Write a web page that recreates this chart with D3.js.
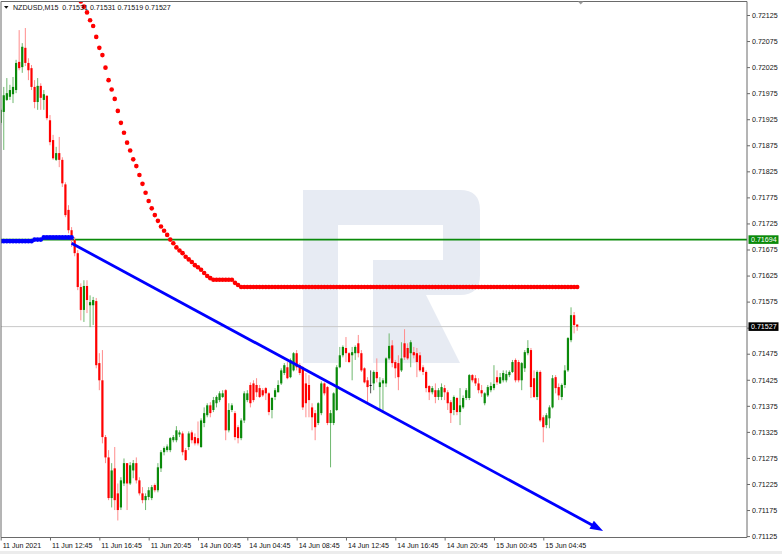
<!DOCTYPE html>
<html><head><meta charset="utf-8">
<script src="https://cdn.jsdelivr.net/npm/d3@7"></script>
<style>
body{margin:0;background:#fff}
svg{display:block}
text{font-family:"Liberation Sans",Arial,sans-serif;font-size:7.1px;fill:#111}
</style>
</head><body>
<svg id="c" width="782" height="554"></svg>
<script>
// ---------- DATA ----------
const symbolTitle = "NZDUSD,M15";
const lastQuote = [0.71531, 0.71531, 0.71519, 0.71527]; // O H L C of current bar
const bidPrice = 0.71527;
const levelPrice = 0.71694;
const priceTicks = [0.71125,0.71175,0.71225,0.71275,0.71325,0.71375,0.71425,0.71475,0.71525,0.71575,0.71625,0.71675,0.71725,0.71775,0.71825,0.71875,0.71925,0.71975,0.72025,0.72075,0.72125];
const timeTickBars = [0,16,32,48,64,80,96,112,128,144,160,176];
const timeTickLabels = ["11 Jun 2021","11 Jun 12:45","11 Jun 16:45","11 Jun 20:45","14 Jun 00:45","14 Jun 04:45","14 Jun 08:45","14 Jun 12:45","14 Jun 16:45","14 Jun 20:45","15 Jun 00:45","15 Jun 04:45"];

const open = [0.71918,0.71939,0.71962,0.71968,0.71973,0.71981,0.72035,0.72025,0.72062,0.72033,0.72023,0.71987,0.71958,0.71989,0.71962,0.71970,0.71923,0.71885,0.71847,0.71860,0.71847,0.71800,0.71751,0.71712,0.71693,0.71668,0.71603,0.71559,0.71605,0.71568,0.71568,0.71576,0.71457,0.71424,0.71315,0.71276,0.71198,0.71255,0.71207,0.71180,0.71226,0.71265,0.71226,0.71251,0.71265,0.71232,0.71207,0.71194,0.71200,0.71198,0.71223,0.71213,0.71255,0.71286,0.71290,0.71290,0.71309,0.71309,0.71320,0.71322,0.71290,0.71296,0.71324,0.71315,0.71313,0.71296,0.71342,0.71357,0.71376,0.71367,0.71380,0.71386,0.71392,0.71405,0.71328,0.71367,0.71361,0.71334,0.71313,0.71347,0.71386,0.71415,0.71418,0.71415,0.71409,0.71405,0.71409,0.71399,0.71367,0.71392,0.71401,0.71418,0.71438,0.71449,0.71430,0.71443,0.71476,0.71453,0.71449,0.71418,0.71415,0.71372,0.71361,0.71342,0.71361,0.71418,0.71411,0.71342,0.71342,0.71367,0.71449,0.71472,0.71486,0.71476,0.71472,0.71476,0.71495,0.71476,0.71447,0.71424,0.71415,0.71418,0.71440,0.71411,0.71418,0.71418,0.71466,0.71491,0.71459,0.71457,0.71443,0.71495,0.71486,0.71476,0.71478,0.71476,0.71472,0.71449,0.71440,0.71413,0.71401,0.71405,0.71392,0.71392,0.71409,0.71401,0.71382,0.71367,0.71390,0.71363,0.71372,0.71390,0.71390,0.71434,0.71428,0.71418,0.71405,0.71380,0.71395,0.71405,0.71409,0.71430,0.71418,0.71424,0.71424,0.71434,0.71440,0.71463,0.71459,0.71424,0.71447,0.71476,0.71482,0.71428,0.71392,0.71440,0.71353,0.71338,0.71351,0.71372,0.71430,0.71411,0.71392,0.71415,0.71443,0.71501,0.71549,0.71531];
const high = [0.71946,0.71987,0.72004,0.71991,0.72006,0.72039,0.72096,0.72071,0.72100,0.72042,0.72029,0.72000,0.72004,0.71994,0.71981,0.71971,0.71933,0.71895,0.71872,0.71891,0.71852,0.71804,0.71760,0.71718,0.71699,0.71674,0.71610,0.71616,0.71616,0.71587,0.71584,0.71582,0.71476,0.71482,0.71319,0.71290,0.71265,0.71296,0.71226,0.71238,0.71274,0.71265,0.71267,0.71271,0.71276,0.71238,0.71219,0.71207,0.71219,0.71223,0.71226,0.71265,0.71290,0.71297,0.71301,0.71315,0.71319,0.71336,0.71328,0.71326,0.71294,0.71326,0.71328,0.71322,0.71345,0.71351,0.71372,0.71380,0.71382,0.71392,0.71395,0.71403,0.71405,0.71407,0.71380,0.71380,0.71365,0.71338,0.71351,0.71403,0.71405,0.71420,0.71424,0.71428,0.71415,0.71409,0.71411,0.71401,0.71392,0.71409,0.71424,0.71447,0.71457,0.71459,0.71466,0.71478,0.71482,0.71457,0.71451,0.71438,0.71434,0.71380,0.71367,0.71382,0.71422,0.71420,0.71413,0.71367,0.71401,0.71453,0.71488,0.71491,0.71507,0.71478,0.71488,0.71491,0.71511,0.71482,0.71449,0.71430,0.71443,0.71443,0.71466,0.71430,0.71428,0.71468,0.71514,0.71501,0.71463,0.71472,0.71497,0.71522,0.71495,0.71501,0.71488,0.71486,0.71478,0.71453,0.71443,0.71415,0.71413,0.71418,0.71409,0.71418,0.71415,0.71405,0.71386,0.71395,0.71392,0.71409,0.71395,0.71409,0.71436,0.71436,0.71434,0.71428,0.71415,0.71401,0.71415,0.71420,0.71453,0.71443,0.71438,0.71443,0.71443,0.71443,0.71463,0.71466,0.71463,0.71459,0.71482,0.71501,0.71486,0.71443,0.71443,0.71443,0.71357,0.71361,0.71376,0.71434,0.71434,0.71418,0.71418,0.71453,0.71507,0.71564,0.71555,0.71531];
const low = [0.71914,0.71866,0.71960,0.71962,0.71956,0.71975,0.72019,0.72014,0.72027,0.72000,0.71981,0.71946,0.71943,0.71943,0.71943,0.71923,0.71875,0.71847,0.71845,0.71833,0.71795,0.71737,0.71706,0.71680,0.71662,0.71597,0.71539,0.71536,0.71553,0.71526,0.71530,0.71447,0.71405,0.71303,0.71265,0.71194,0.71180,0.71175,0.71155,0.71175,0.71221,0.71175,0.71223,0.71236,0.71226,0.71203,0.71188,0.71175,0.71194,0.71194,0.71209,0.71209,0.71248,0.71280,0.71286,0.71286,0.71305,0.71305,0.71315,0.71280,0.71269,0.71290,0.71303,0.71299,0.71299,0.71294,0.71334,0.71353,0.71353,0.71363,0.71372,0.71382,0.71390,0.71309,0.71324,0.71363,0.71309,0.71303,0.71309,0.71342,0.71382,0.71372,0.71382,0.71392,0.71390,0.71392,0.71386,0.71357,0.71351,0.71386,0.71401,0.71415,0.71434,0.71426,0.71428,0.71441,0.71443,0.71434,0.71367,0.71353,0.71353,0.71328,0.71309,0.71338,0.71357,0.71395,0.71338,0.71257,0.71338,0.71365,0.71447,0.71468,0.71459,0.71457,0.71424,0.71463,0.71468,0.71440,0.71418,0.71380,0.71399,0.71405,0.71420,0.71367,0.71363,0.71411,0.71463,0.71449,0.71428,0.71405,0.71440,0.71463,0.71463,0.71449,0.71466,0.71430,0.71440,0.71434,0.71401,0.71386,0.71397,0.71380,0.71386,0.71386,0.71386,0.71367,0.71342,0.71357,0.71357,0.71338,0.71369,0.71386,0.71386,0.71420,0.71413,0.71399,0.71392,0.71376,0.71392,0.71401,0.71405,0.71415,0.71417,0.71420,0.71420,0.71430,0.71438,0.71420,0.71420,0.71405,0.71440,0.71472,0.71390,0.71390,0.71386,0.71344,0.71305,0.71332,0.71332,0.71370,0.71399,0.71386,0.71386,0.71409,0.71440,0.71497,0.71514,0.71519];
const close = [0.71943,0.71971,0.71975,0.71981,0.71987,0.72033,0.72023,0.72064,0.72033,0.72019,0.71987,0.71958,0.71989,0.71966,0.71973,0.71927,0.71881,0.71850,0.71860,0.71847,0.71802,0.71741,0.71712,0.71693,0.71668,0.71603,0.71559,0.71605,0.71578,0.71574,0.71578,0.71453,0.71424,0.71315,0.71276,0.71198,0.71251,0.71194,0.71175,0.71232,0.71265,0.71226,0.71261,0.71265,0.71232,0.71207,0.71194,0.71202,0.71213,0.71219,0.71213,0.71257,0.71286,0.71294,0.71297,0.71313,0.71315,0.71328,0.71324,0.71286,0.71271,0.71322,0.71309,0.71303,0.71303,0.71347,0.71361,0.71376,0.71361,0.71386,0.71392,0.71399,0.71399,0.71328,0.71367,0.71376,0.71315,0.71313,0.71347,0.71399,0.71399,0.71380,0.71386,0.71401,0.71392,0.71395,0.71399,0.71363,0.71390,0.71405,0.71415,0.71443,0.71453,0.71428,0.71463,0.71476,0.71449,0.71438,0.71372,0.71380,0.71386,0.71353,0.71334,0.71380,0.71418,0.71399,0.71342,0.71361,0.71399,0.71449,0.71472,0.71488,0.71476,0.71459,0.71478,0.71488,0.71476,0.71443,0.71420,0.71411,0.71415,0.71440,0.71428,0.71420,0.71424,0.71466,0.71490,0.71457,0.71447,0.71430,0.71466,0.71468,0.71466,0.71497,0.71472,0.71459,0.71443,0.71440,0.71409,0.71401,0.71409,0.71392,0.71405,0.71411,0.71401,0.71380,0.71361,0.71392,0.71363,0.71376,0.71390,0.71405,0.71434,0.71424,0.71418,0.71405,0.71399,0.71399,0.71411,0.71413,0.71417,0.71420,0.71430,0.71438,0.71436,0.71440,0.71459,0.71424,0.71424,0.71457,0.71478,0.71486,0.71411,0.71392,0.71440,0.71347,0.71334,0.71357,0.71372,0.71428,0.71409,0.71395,0.71415,0.71443,0.71505,0.71549,0.71530,0.71527];

// dotted indicator: lower (blue) part from bar 0, upper (red) part from bar 26
const blueDotsStart = 0;
const blueDots = [0.71691,0.71691,0.71691,0.71691,0.71691,0.71691,0.71691,0.71691,0.71691,0.71691,0.71691,0.71694,0.71694,0.71694,0.71698,0.71698,0.71698,0.71698,0.71698,0.71698,0.71698,0.71698,0.71698,0.71698];
const redDotsStart = 26;
const redDots = [0.72151,0.72141,0.72130,0.72115,0.72104,0.72083,0.72062,0.72048,0.72024,0.72000,0.71982,0.71964,0.71941,0.71918,0.71899,0.71880,0.71865,0.71848,0.71835,0.71818,0.71801,0.71784,0.71768,0.71754,0.71741,0.71730,0.71719,0.71711,0.71703,0.71694,0.71687,0.71679,0.71673,0.71668,0.71661,0.71656,0.71651,0.71645,0.71641,0.71636,0.71630,0.71624,0.71620,0.71617,0.71617,0.71617,0.71617,0.71617,0.71617,0.71617,0.71611,0.71607,
0.71603,0.71603,0.71603,0.71603,0.71603,0.71603,0.71603,0.71603,0.71603,0.71603,
0.71603,0.71603,0.71603,0.71603,0.71603,0.71603,0.71603,0.71603,0.71603,0.71603,
0.71603,0.71603,0.71603,0.71603,0.71603,0.71603,0.71603,0.71603,0.71603,0.71603,
0.71603,0.71603,0.71603,0.71603,0.71603,0.71603,0.71603,0.71603,0.71603,0.71603,
0.71603,0.71603,0.71603,0.71603,0.71603,0.71603,0.71603,0.71603,0.71603,0.71603,
0.71603,0.71603,0.71603,0.71603,0.71603,0.71603,0.71603,0.71603,0.71603,0.71603,
0.71603,0.71603,0.71603,0.71603,0.71603,0.71603,0.71603,0.71603,0.71603,0.71603,
0.71603,0.71603,0.71603,0.71603,0.71603,0.71603,0.71603,0.71603,0.71603,0.71603,
0.71603,0.71603,0.71603,0.71603,0.71603,0.71603,0.71603,0.71603,0.71603,0.71603,
0.71603,0.71603,0.71603,0.71603,0.71603,0.71603,0.71603,0.71603,0.71603,0.71603,
0.71603,0.71603,0.71603,0.71603,0.71603,0.71603,0.71603,0.71603,0.71603,0.71603];
// trend line (bar index, price) with arrow at the end
const trendBars = [23, 195.4];
const trendPrices = [0.71687, 0.71135];

// ---------- CHART ----------
const svg = d3.select("#c");
const frame = {l:1, t:1.5, r:747, b:537.5};
const x = d3.scaleLinear().domain([0, 187]).range([0.67, 577.2]);
const y = d3.scaleLinear().domain([0.71125, 0.72125]).range([536.1, 15]);

svg.append("defs").append("clipPath").attr("id","plot")
  .append("rect").attr("x",frame.l).attr("y",frame.t).attr("width",frame.r-frame.l).attr("height",frame.b-frame.t);

// watermark logo
const wm = svg.append("g").attr("fill","#e7ebf3");
wm.append("path").attr("d",
  "M303,190 H460 Q480,190 480,210 V275 Q480,295 460,295 H373 V260 H443 V225 H338 V363 H303 Z");
wm.append("path").attr("d","M373,295 H426 L460,363 H373 Z");

const g = svg.append("g").attr("clip-path","url(#plot)");

// bid line and level line
g.append("line").attr("x1",frame.l).attr("x2",frame.r).attr("y1",y(bidPrice)).attr("y2",y(bidPrice))
  .attr("stroke","#c8c8c8").attr("stroke-width",1);
g.append("line").attr("x1",frame.l).attr("x2",frame.r).attr("y1",y(levelPrice)).attr("y2",y(levelPrice))
  .attr("stroke","#0a8a0a").attr("stroke-width",1.6);

// candles
const bars = open.map((o,i)=>({i, o, h:high[i], l:low[i], c:close[i]}));
const col = d => d.c > d.o ? "#0a8a0a" : (d.c < d.o ? "#ff0000" : "#000000");
const wickCol = d => d.c > d.o ? "#6fb86f" : (d.c < d.o ? "#ff8c8c" : "#555555");
g.selectAll("line.wick").data(bars).enter().append("line").attr("class","wick")
  .attr("x1",d=>x(d.i)).attr("x2",d=>x(d.i))
  .attr("y1",d=>y(d.h)).attr("y2",d=>y(d.l))
  .attr("stroke",wickCol).attr("stroke-width",1);
g.selectAll("rect.body").data(bars).enter().append("rect").attr("class","body")
  .attr("x",d=>x(d.i)-1.1).attr("width",2.2)
  .attr("y",d=>y(Math.max(d.o,d.c)))
  .attr("height",d=>Math.max(0.9, Math.abs(y(d.o)-y(d.c))))
  .attr("fill",col);

// title
const tg = svg.append("g");
tg.append("path").attr("d","M4,6 L8.5,6 L6.25,8.8 Z").attr("fill","#111");
tg.append("text").attr("x",13).attr("y",10).attr("xml:space","preserve")
  .text(symbolTitle + "  " + lastQuote.map(v=>v.toFixed(5)).join(" "));

// indicator dots
g.selectAll("circle.blue").data(blueDots).enter().append("circle").attr("class","blue")
  .attr("cx",(d,k)=>x(blueDotsStart+k)).attr("cy",d=>y(d)).attr("r",2.4).attr("fill","#0000ff");
g.selectAll("circle.red").data(redDots).enter().append("circle").attr("class","red")
  .attr("cx",(d,k)=>x(redDotsStart+k)).attr("cy",d=>y(d)).attr("r",2.3).attr("fill","#ff0000");

// trend line with arrow
const x1 = x(trendBars[0]), y1 = y(trendPrices[0]), x2 = x(trendBars[1]), y2 = y(trendPrices[1]);
const ang = Math.atan2(y2-y1, x2-x1), AL = 13, AW = 4.6;
const bx = x2 - AL*Math.cos(ang), by = y2 - AL*Math.sin(ang);
svg.append("line").attr("x1",x1).attr("y1",y1).attr("x2",bx+2*Math.cos(ang)).attr("y2",by+2*Math.sin(ang))
  .attr("stroke","#0000ff").attr("stroke-width",2.8);
svg.append("path").attr("fill","#0000ff").attr("d",
  `M${x2},${y2} L${bx - AW*Math.sin(ang)},${by + AW*Math.cos(ang)} L${bx + AW*Math.sin(ang)},${by - AW*Math.cos(ang)} Z`);

// frame
svg.append("path").attr("fill","none").attr("stroke","#6a6a6a").attr("stroke-width",1)
  .attr("d",`M${frame.l},${frame.b} V${frame.t} H${frame.r} V${frame.b} H${frame.l}`);
svg.append("path").attr("d","M578,1.5 L583.5,1.5 L580.75,4.5 Z").attr("fill","#9a9a9a");

// price axis
const ay = svg.append("g").attr("transform",`translate(${frame.r},0)`)
  .call(d3.axisRight(y).tickValues(priceTicks).tickSize(3).tickPadding(2).tickFormat(d3.format(".5f")));
ay.select(".domain").remove();
ay.selectAll(".tick line").attr("stroke","#6a6a6a");
ay.selectAll(".tick text").attr("fill","#111").style("font-size","7.1px").style("font-family","'Liberation Sans',Arial,sans-serif");

// time axis
const ax = svg.append("g").attr("transform",`translate(0,${frame.b})`)
  .call(d3.axisBottom(x).tickValues(timeTickBars).tickSize(3).tickFormat((d,k)=>timeTickLabels[k]));
ax.select(".domain").remove();
ax.selectAll(".tick line").attr("stroke","#6a6a6a");
ax.selectAll(".tick text").attr("text-anchor","start").attr("dx",1.5).attr("y",5)
  .attr("fill","#111").style("font-size","7.1px").style("font-family","'Liberation Sans',Arial,sans-serif");

// price labels on the axis
function priceTag(p, bg){
  const t = svg.append("g").attr("transform",`translate(${frame.r+1.5},${y(p)})`);
  t.append("rect").attr("x",0).attr("y",-4.3).attr("width",30).attr("height",8.6).attr("fill",bg);
  t.append("text").attr("x",2.5).attr("y",2.6).attr("fill","#fff").style("fill","#fff").text(p.toFixed(5));
}
priceTag(levelPrice, "#0a8a0a");
priceTag(bidPrice, "#000000");

// bottom window strip
svg.append("rect").attr("x",0).attr("y",551).attr("width",782).attr("height",3).attr("fill","#ececec");
</script>
</body></html>
